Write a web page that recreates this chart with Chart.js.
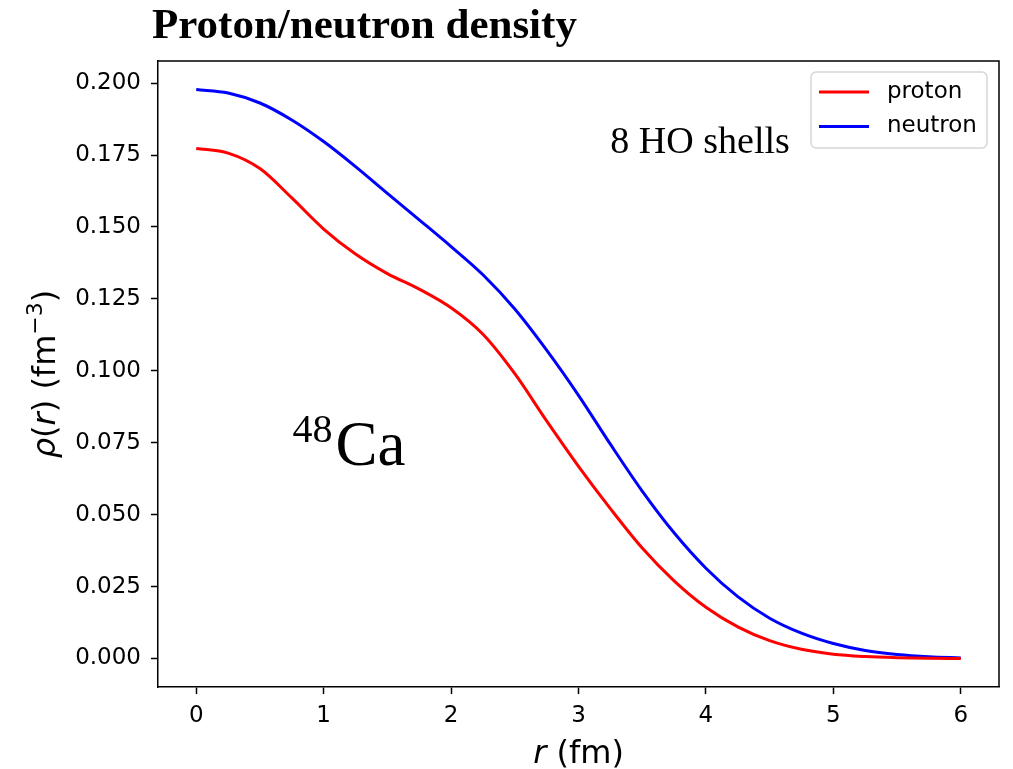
<!DOCTYPE html>
<html>
<head>
<meta charset="utf-8">
<title>Proton/neutron density</title>
<script src="https://cdn.jsdelivr.net/npm/chart.js@4/dist/chart.umd.min.js"></script>
<style>
  body { margin: 0; background: #fff; }
  canvas { display: block; }
</style>
</head>
<body>
<canvas id="densityChart" width="1013" height="769"></canvas>
<script>
// radial grid (fm) and densities (fm^-3) for 48Ca
const radius = [0, 0.25, 0.5, 0.75, 1, 1.25, 1.5, 1.75, 2, 2.25, 2.5, 2.75, 3,
                3.25, 3.5, 3.75, 4, 4.25, 4.5, 4.75, 5, 5.25, 5.5, 5.75, 6];
const protonDensity = [0.1773, 0.1757, 0.1703, 0.1601, 0.1493, 0.1406, 0.1338, 0.1284, 0.1219,
                       0.1127, 0.0990, 0.0826, 0.0668, 0.0521, 0.0384, 0.0270, 0.0178, 0.0110,
                       0.0062, 0.0032, 0.0015, 0.0007, 0.0003, 0.0001, 0.0000];
const neutronDensity = [0.1978, 0.1966, 0.1931, 0.1872, 0.1797, 0.1710, 0.1617, 0.1525, 0.1432,
                        0.1334, 0.1215, 0.1072, 0.0915, 0.0745, 0.0582, 0.0437, 0.0314, 0.0215,
                        0.0140, 0.0088, 0.0052, 0.0028, 0.0014, 0.0006, 0.0002];
const xTicks = [0, 1, 2, 3, 4, 5, 6];
const yTicks = [0, 0.025, 0.05, 0.075, 0.1, 0.125, 0.15, 0.175, 0.2];

const SANS = '"DejaVu Sans", sans-serif';
const SERIF = '"Liberation Serif", "Times New Roman", serif';

function toPoints(ys) {
    return radius.map((r, i) => ({ x: r, y: ys[i] }));
}

// draws a row of text pieces (mixed italic / superscript) starting at x
function drawRuns(ctx, runs, x, y) {
    let cx = x;
    runs.forEach(run => {
        ctx.font = run.font;
        ctx.fillText(run.text, cx, y - (run.rise || 0));
        cx += ctx.measureText(run.text).width;
    });
}
function runsWidth(ctx, runs) {
    let w = 0;
    runs.forEach(run => {
        ctx.font = run.font;
        w += ctx.measureText(run.text).width;
    });
    return w;
}

const decorations = {
    id: 'decorations',
    afterDraw(chart) {
        const ctx = chart.ctx;
        const area = chart.chartArea;
        const xs = chart.scales.x;
        const ys = chart.scales.y;
        ctx.save();

        // top and right spines
        ctx.strokeStyle = '#000';
        ctx.lineWidth = 1.5;
        ctx.beginPath();
        ctx.moveTo(area.left, area.top);
        ctx.lineTo(area.right, area.top);
        ctx.lineTo(area.right, area.bottom);
        ctx.stroke();

        ctx.fillStyle = '#000';
        ctx.textBaseline = 'alphabetic';
        ctx.textAlign = 'left';

        // title
        ctx.font = 'bold 43px ' + SERIF;
        ctx.fillText('Proton/neutron density', 152, 38);

        // x axis label
        const xRuns = [
            { text: 'r', font: 'italic 32px ' + SANS },
            { text: ' (fm)', font: '32px ' + SANS }
        ];
        drawRuns(ctx, xRuns, (area.left + area.right) / 2 - runsWidth(ctx, xRuns) / 2, 763);

        // y axis label, rotated
        const yRuns = [
            { text: 'ρ', font: 'italic 32px ' + SANS },
            { text: '(', font: '32px ' + SANS },
            { text: 'r', font: 'italic 32px ' + SANS },
            { text: ') (fm', font: '32px ' + SANS },
            { text: '−3', font: '22px ' + SANS, rise: 13 },
            { text: ')', font: '32px ' + SANS }
        ];
        ctx.save();
        ctx.translate(55, (area.top + area.bottom) / 2);
        ctx.rotate(-Math.PI / 2);
        drawRuns(ctx, yRuns, -runsWidth(ctx, yRuns) / 2, 0);
        ctx.restore();

        // annotations
        ctx.font = '38px ' + SERIF;
        ctx.fillText('8 HO shells', xs.getPixelForValue(3.25), ys.getPixelForValue(0.1757));
        const caX = xs.getPixelForValue(0.755);
        const caY = ys.getPixelForValue(0.0671);
        ctx.font = '40px ' + SERIF;
        ctx.fillText('48', caX, caY - 23);
        const w48 = ctx.measureText('48').width;
        ctx.font = '63px ' + SERIF;
        ctx.fillText('Ca', caX + w48 + 3, caY);

        // legend
        const box = { x: 811, y: 72, w: 176, h: 76 };
        ctx.beginPath();
        ctx.roundRect(box.x, box.y, box.w, box.h, 5);
        ctx.fillStyle = 'rgba(255,255,255,0.8)';
        ctx.fill();
        ctx.strokeStyle = '#d6d6d6';
        ctx.lineWidth = 1.5;
        ctx.stroke();
        ctx.font = '23px ' + SANS;
        ctx.textBaseline = 'middle';
        chart.data.datasets.forEach((ds, i) => {
            const rowY = 92 + i * 34.5;
            ctx.strokeStyle = ds.borderColor;
            ctx.lineWidth = ds.borderWidth;
            ctx.beginPath();
            ctx.moveTo(819, rowY);
            ctx.lineTo(869, rowY);
            ctx.stroke();
            ctx.fillStyle = '#000';
            ctx.fillText(ds.label, 887, rowY);
        });
        ctx.restore();
    }
};

const ctx = document.getElementById('densityChart').getContext('2d');
const chart = new Chart(ctx, {
    type: 'line',
    data: {
        datasets: [
            {
                label: 'proton',
                data: toPoints(protonDensity),
                borderColor: '#ff0000',
                borderWidth: 3,
                pointRadius: 0,
                cubicInterpolationMode: 'monotone',
                fill: false
            },
            {
                label: 'neutron',
                data: toPoints(neutronDensity),
                borderColor: '#0000ff',
                borderWidth: 3,
                pointRadius: 0,
                cubicInterpolationMode: 'monotone',
                fill: false
            }
        ]
    },
    options: {
        responsive: false,
        animation: false,
        events: [],
        layout: { padding: { left: 0, right: 14, top: 61, bottom: 0 } },
        plugins: {
            legend: { display: false },
            title: { display: false },
            tooltip: { enabled: false }
        },
        scales: {
            x: {
                type: 'linear',
                min: -0.3,
                max: 6.3,
                afterFit(scale) { scale.height = 82; },
                afterBuildTicks(scale) { scale.ticks = xTicks.map(v => ({ value: v })); },
                grid: {
                    drawOnChartArea: false,
                    drawTicks: true,
                    tickLength: 7,
                    tickWidth: 1.5,
                    tickColor: '#000'
                },
                border: { display: true, color: '#000', width: 1.5 },
                ticks: {
                    color: '#000',
                    padding: 8,
                    maxRotation: 0,
                    font: { family: SANS, size: 23 },
                    callback: v => String(v)
                }
            },
            y: {
                type: 'linear',
                min: -0.0099,
                max: 0.2077,
                afterFit(scale) { scale.width = 158; },
                afterBuildTicks(scale) { scale.ticks = yTicks.map(v => ({ value: v })); },
                grid: {
                    drawOnChartArea: false,
                    drawTicks: true,
                    tickLength: 7,
                    tickWidth: 1.5,
                    tickColor: '#000'
                },
                border: { display: true, color: '#000', width: 1.5 },
                ticks: {
                    color: '#000',
                    padding: 10,
                    font: { family: SANS, size: 23 },
                    callback: v => v.toFixed(3)
                }
            }
        }
    },
    plugins: [decorations]
});
</script>
</body>
</html>
